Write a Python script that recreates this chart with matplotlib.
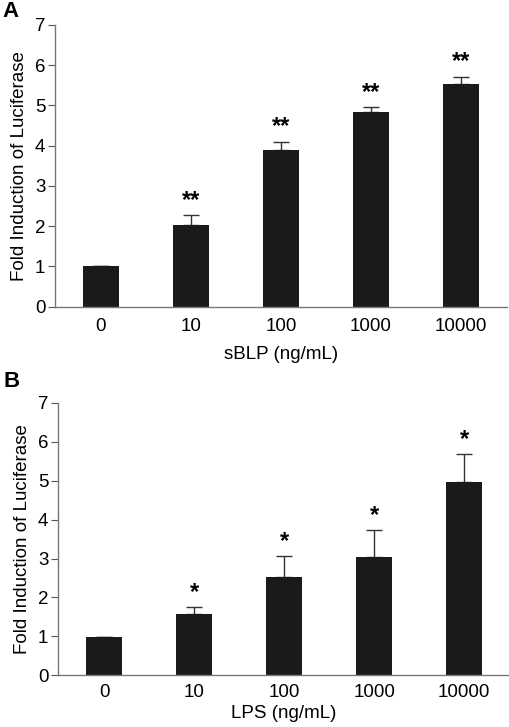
import numpy as np
import matplotlib.pyplot as plt

plt.rcParams['font.family'] = ['Liberation Sans', 'DejaVu Sans']

doses = ['0', '10', '100', '1000', '10000']

blp_mean = [1.0, 2.03, 3.89, 4.83, 5.52]
blp_err = [0.01, 0.25, 0.21, 0.12, 0.19]
blp_stars = ['', '**', '**', '**', '**']

lps_mean = [0.98, 1.57, 2.53, 3.04, 4.96]
lps_err = [0.01, 0.18, 0.54, 0.70, 0.73]
lps_stars = ['', '*', '*', '*', '*']

fig = plt.figure(figsize=(5.1, 7.27), dpi=100)
axA = fig.add_axes([0.108, 0.578, 0.886, 0.388])
axB = fig.add_axes([0.114, 0.071, 0.886, 0.375])


def panel(ax, means, errs, stars, xlabel, xpad, tpad):
    x = np.arange(len(doses))
    ax.bar(x, means, width=0.4, color='#1a1a1a', zorder=2)
    ax.errorbar(x, means, yerr=[np.zeros(len(errs)), errs], fmt='none',
                ecolor='#333333', elinewidth=1, capsize=6, capthick=1, zorder=1)
    for xi, m, e, s in zip(x, means, errs, stars):
        if s:
            ax.text(xi, m + e + 0.08, s, ha='center', va='bottom',
                    fontsize=17, fontweight='bold')
    ax.set_xlim(-0.51, 4.51)
    ax.set_ylim(0, 7)
    ax.set_yticks(range(8))
    ax.set_xticks(x)
    ax.set_xticklabels(doses)
    ax.tick_params(axis='x', length=0, labelsize=13.5, pad=tpad)
    ax.tick_params(axis='y', length=5, width=0.8, color='#555555', labelsize=13.5, pad=2)
    for side in ['top', 'right']:
        ax.spines[side].set_visible(False)
    for side in ['left', 'bottom']:
        ax.spines[side].set_color('#777777')
        ax.spines[side].set_linewidth(1)
    ax.set_xlabel(xlabel, fontsize=13.5, labelpad=xpad)
    ax.set_ylabel('Fold Induction of Luciferase', fontsize=13.5, labelpad=5)


panel(axA, blp_mean, blp_err, blp_stars, 'sBLP (ng/mL)', 8, 8)
panel(axB, lps_mean, lps_err, lps_stars, 'LPS (ng/mL)', 3, 6)

fig.text(0.004, 0.999, 'A', fontsize=16, fontweight='bold', ha='left', va='top')
fig.text(0.006, 0.489, 'B', fontsize=16, fontweight='bold', ha='left', va='top')

fig.savefig('out.png', dpi=100)
